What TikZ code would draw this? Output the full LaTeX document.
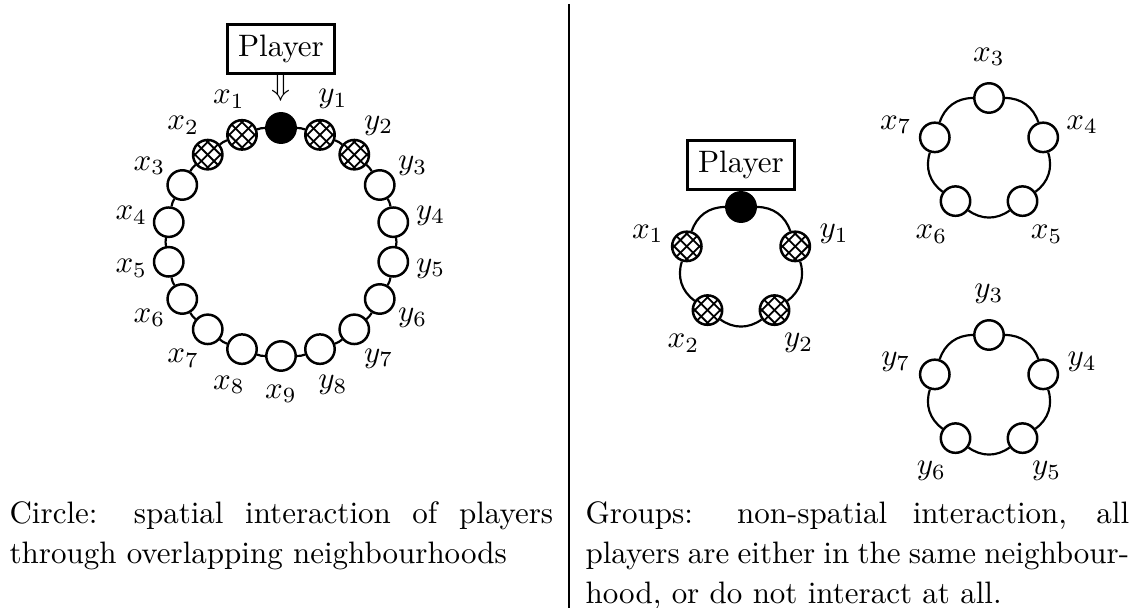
\documentclass[tikz,border=0pt]{standalone}
\usetikzlibrary{calc}
\begin{document}
\begin{tikzpicture}[x=0.3227pt,y=0.3227pt,
  font=\fontsize{10}{12.9}\selectfont,
  pl/.style={circle,draw,thick,fill=white,minimum size=9.5pt,inner sep=0pt},
  hat/.style={pl,path picture={
    \begin{scope}[shift={(path picture bounding box.center)}]
      \foreach \d in {-2.9,0,2.9}{
        \draw[line width=0.6pt] ({(\d-7)*0.7071*1pt},{(-\d-7)*0.7071*1pt}) -- ({(\d+7)*0.7071*1pt},{(-\d+7)*0.7071*1pt});
        \draw[line width=0.6pt] ({(\d+7)*0.7071*1pt},{(\d-7)*0.7071*1pt}) -- ({(\d-7)*0.7071*1pt},{(\d+7)*0.7071*1pt});}
    \end{scope}}},
  me/.style={pl,fill=black},
  ring/.style={line width=0.7pt},
  lab/.style={inner sep=0pt},
  box/.style={draw,line width=0.9pt,inner sep=3.33pt},
  caption/.style={anchor=north west,inner sep=0pt,text width=175.4pt,align=justify}]
\useasboundingbox (0,0) rectangle (1138,-608);

% ---------- left: circle ----------
\coordinate (C) at (281,-242);
\node[box] (PL) at (281,-49) {Player};
\node (arr) at (281,-88) {$\Downarrow$};
\node[me] (P) at ($(C)+(90:114)$) {};
\foreach \k/\s in {1/hat,2/hat,3/pl,4/pl,5/pl,6/pl,7/pl,8/pl,9/pl}{
  \node[\s] (x\k) at ($(C)+({90+20*\k}:114)$) {};
  \node[lab] (lx\k) at ($(C)+({90+20*\k}:152)$) {$x_{\k}$};
}
\foreach \k/\s in {1/hat,2/hat,3/pl,4/pl,5/pl,6/pl,7/pl,8/pl}{
  \node[\s] (y\k) at ($(C)+({90-20*\k}:114)$) {};
  \node[lab] (ly\k) at ($(C)+({90-20*\k}:152)$) {$y_{\k}$};
}
\draw[ring] (P) to[bend right=10] (x1);
\foreach \a/\b in {1/2,2/3,3/4,4/5,5/6,6/7,7/8,8/9}{
  \draw[ring] (x\a) to[bend right=10] (x\b);
}
\draw[ring] (P) to[bend left=10] (y1);
\foreach \a/\b in {1/2,2/3,3/4,4/5,5/6,6/7,7/8}{
  \draw[ring] (y\a) to[bend left=10] (y\b);
}
\draw[ring] (y8) to[bend left=10] (x9);

% ---------- divider ----------
\coordinate (dtop) at (569,-4);
\coordinate (dbot) at (569,-608);
\draw[line width=0.85pt] (dtop) -- (dbot);

% ---------- right: player group ----------
\coordinate (G1) at (741,-264);
\node[box] (PR) at (741,-165) {Player};
\node[me] (Q) at ($(G1)+(90:57)$) {};
\node[hat] (qx1) at ($(G1)+(162:57)$) {};
\node[hat] (qx2) at ($(G1)+(234:57)$) {};
\node[hat] (qy2) at ($(G1)+(306:57)$) {};
\node[hat] (qy1) at ($(G1)+(18:57)$) {};
\node[lab] (lqx1) at ($(G1)+(162:98)$) {$x_1$};
\node[lab] (lqx2) at ($(G1)+(234:98)$) {$x_2$};
\node[lab] (lqy2) at ($(G1)+(306:98)$) {$y_2$};
\node[lab] (lqy1) at ($(G1)+(18:98)$) {$y_1$};
\draw[ring] (Q) to[bend right=36] (qx1);
\draw[ring] (qx1) to[bend right=36] (qx2);
\draw[ring] (qx2) to[bend right=36] (qy2);
\draw[ring] (qy2) to[bend right=36] (qy1);
\draw[ring] (qy1) to[bend right=36] (Q);

% ---------- right: x group ----------
\coordinate (G2) at (989,-155);
\foreach \k/\ang in {3/90,7/162,6/234,5/306,4/18}{
  \node[pl] (gx\k) at ($(G2)+(\ang:57)$) {};
  \node[lab] (lgx\k) at ($(G2)+(\ang:98)$) {$x_{\k}$};
}
\foreach \a/\b in {3/7,7/6,6/5,5/4,4/3}{
  \draw[ring] (gx\a) to[bend right=36] (gx\b);
}

% ---------- right: y group ----------
\coordinate (G3) at (989,-392);
\foreach \k/\ang in {3/90,7/162,6/234,5/306,4/18}{
  \node[pl] (gy\k) at ($(G3)+(\ang:57)$) {};
  \node[lab] (lgy\k) at ($(G3)+(\ang:98)$) {$y_{\k}$};
}
\foreach \a/\b in {3/7,7/6,6/5,5/4,4/3}{
  \draw[ring] (gy\a) to[bend right=36] (gy\b);
}

% ---------- captions ----------
\node[caption] (capL) at (9,-501)
  {Circle: spatial interaction of players\linebreak through overlapping neighbourhoods};
\node[caption] (capR) at (585,-501)
  {Groups: non-spatial interaction, all\linebreak players are either in the same neighbour-\linebreak hood, or do not interact at all.};
\end{tikzpicture}
\end{document}
